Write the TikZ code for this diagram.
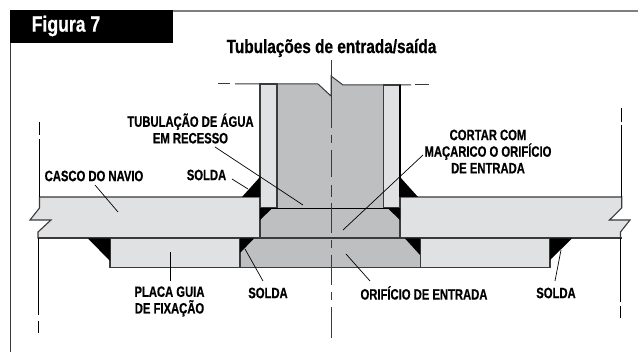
\documentclass[tikz,border=0pt]{standalone}
\usepackage{fontspec}
\newfontfamily\cond[FakeStretch=0.75,FakeBold=0.6,UprightFont=* Bold]{Liberation Sans}
\newfontfamily\condw[FakeStretch=0.80,FakeBold=0.6,UprightFont=* Bold]{Liberation Sans}
\definecolor{lt}{HTML}{E0E1E3}
\definecolor{md}{HTML}{BEBFC1}
\definecolor{ln}{HTML}{3A3A3A}
\definecolor{fr}{HTML}{7F7F7F}
\tikzset{
  lbl/.style={font=\cond\fontsize{15}{16.6}\selectfont,align=center,inner sep=0pt,text=black},
  outl/.style={draw=ln,line width=1.1pt,line join=miter},
  wld/.style={fill=black,draw=none},
  leader/.style={draw=black,line width=0.7pt},
  edge line/.style={draw=black,line width=0.9pt},
  axis/.style={draw=ln,line width=1pt}
}
\begin{document}
\begin{tikzpicture}[x=1pt,y=-1pt]
\useasboundingbox (0,0) rectangle (638,352);
% frame
\draw[draw=fr,line width=1.4pt] (638,11) -- (10.5,11);
\draw[draw=ln,line width=1pt] (10.5,11) -- (10.5,352);
\fill[black] (10,10.5) rectangle (172.5,43);
\node[font=\condw\fontsize{22}{24}\selectfont,text=white,inner sep=0pt,anchor=center] (fig) at (66,26) {Figura 7};
\node[font=\condw\fontsize{19.2}{20}\selectfont,inner sep=0pt] (title) at (331.5,48) {Tubulações de entrada/saída};
% hull plates
\path[fill=lt,outl] (39.5,197) -- (260,197) -- (260,238) -- (38,238) -- (38,232) -- (51,220) -- (30,220) -- (39.5,208) -- cycle;
\path[fill=lt,outl] (621.7,197) -- (400,197) -- (400,238) -- (620.5,238) -- (620.5,232) -- (630,220) -- (609.5,220) -- (621.7,208) -- cycle;
% centre blocks
\path[fill=md,outl] (260,208) rectangle (400,238);
\path[fill=md,draw=ln,line width=0.9pt] (240,238) rectangle (420.3,267.5);
% pipe
\path[fill=lt,outl] (260,84) rectangle (277,208);
\path[fill=lt,outl] (383.5,85) rectangle (400,208);
\path[fill=md] (277,84) -- (318,84) -- (331,96) -- (331,76) -- (343,85) -- (383.5,85) -- (383.5,208) -- (277,208) -- cycle;
\draw[draw=ln,line width=1.1pt] (277,84) -- (277,208);
\draw[draw=ln,line width=1.1pt] (383.5,85) -- (383.5,208);
\draw[draw=black,line width=1.2pt] (260,208.3) -- (400,208.3);
\draw[draw=ln,line width=1pt] (235,84) -- (318,84) -- (331,96) -- (331,76) -- (343,85) -- (411,85);
\draw[draw=ln,line width=1pt] (218,84) -- (230,84);
\draw[draw=ln,line width=1pt] (415,85) -- (429,85);
\draw[draw=ln,line width=1.3pt] (260,84) -- (260,197);
\draw[draw=black,line width=1.1pt] (400,85) -- (400,197);
% guide plates
\path[fill=lt,draw=ln,line width=1.1pt] (110,238) rectangle (240,267.5);
\path[fill=lt,draw=ln,line width=1.1pt] (420.3,238) rectangle (550,267.5);
% thick bottom line of the hull
\draw[draw=ln,line width=1.4pt] (38,238) -- (622,238);
% welds
\fill[wld] (242,197) -- (260,177) -- (260,197) -- cycle;
\fill[wld] (400,177) -- (418,197) -- (400,197) -- cycle;
\fill[wld] (260,208.5) -- (272,208.5) -- (260,220) -- cycle;
\fill[wld] (400,208.5) -- (388,208.5) -- (400,220) -- cycle;
\fill[wld] (240,238.5) -- (254,238.5) -- (240,253) -- cycle;
\fill[wld] (405,238.5) -- (420,238.5) -- (420,255) -- cycle;
\fill[wld] (88,238.5) -- (110,238.5) -- (110,261) -- cycle;
\fill[wld] (550,238.5) -- (572,238.5) -- (550,260) -- cycle;
% side break lines
\draw[edge line] (39.5,122) -- (39.5,135);
\draw[edge line] (39.5,139) -- (39.5,197);
\draw[edge line] (38,238) -- (38,315);
\draw[edge line] (38,321) -- (38,333);
\draw[edge line] (621.7,108) -- (621.7,122);
\draw[edge line] (621.7,125) -- (621.7,197);
\draw[edge line] (620.5,238) -- (620.5,302);
\draw[edge line] (620.5,306) -- (620.5,318);
% centre axis
\draw[axis] (331,60) -- (331,128) (331,135) -- (331,143) (331,150) -- (331,177)
  (331,185) -- (331,197) (331,203) -- (331,233) (331,240) -- (331,248)
  (331,255) -- (331,285) (331,292) -- (331,300) (331,307) -- (331,338);
% labels
\node[lbl] (tub) at (190.5,128.5) {TUBULAÇÃO DE ÁGUA\\EM RECESSO};
\node[lbl] (casco) at (94,176) {CASCO DO NAVIO};
\node[lbl] (sa) at (206.5,175) {SOLDA};
\node[lbl] (cort) at (488,151.5) {CORTAR COM\\MAÇARICO O ORIFÍCIO\\DE ENTRADA};
\node[lbl] (placa) at (169.5,301.5) {PLACA GUIA\\DE FIXAÇÃO};
\node[lbl] (sb) at (268,293) {SOLDA};
\node[lbl] (orif) at (424,293) {ORIFÍCIO DE ENTRADA};
\node[lbl] (sc) at (556,293) {SOLDA};
% leaders
\coordinate (tubA) at (215,147); \coordinate (tubB) at (303,205);
\coordinate (cascoA) at (95,185); \coordinate (cascoB) at (118,212);
\coordinate (saA) at (232,179); \coordinate (saB) at (248,189);
\coordinate (placaA) at (170,281); \coordinate (placaB) at (170,252);
\coordinate (sbA) at (263,281); \coordinate (sbB) at (245,249);
\coordinate (orifA) at (370,281); \coordinate (orifB) at (346,254);
\coordinate (scA) at (555,281); \coordinate (scB) at (561,250);
\coordinate (cortA) at (423,155); \coordinate (cortB) at (343,230);
\draw[leader] (tubA) -- (tubB);
\draw[leader] (cascoA) -- (cascoB);
\draw[leader] (saA) -- (saB);
\draw[leader] (placaA) -- (placaB);
\draw[leader] (sbA) -- (sbB);
\draw[leader] (orifA) -- (orifB);
\draw[leader] (scA) -- (scB);
\draw[leader] (cortA) -- (cortB);
\end{tikzpicture}
\end{document}
